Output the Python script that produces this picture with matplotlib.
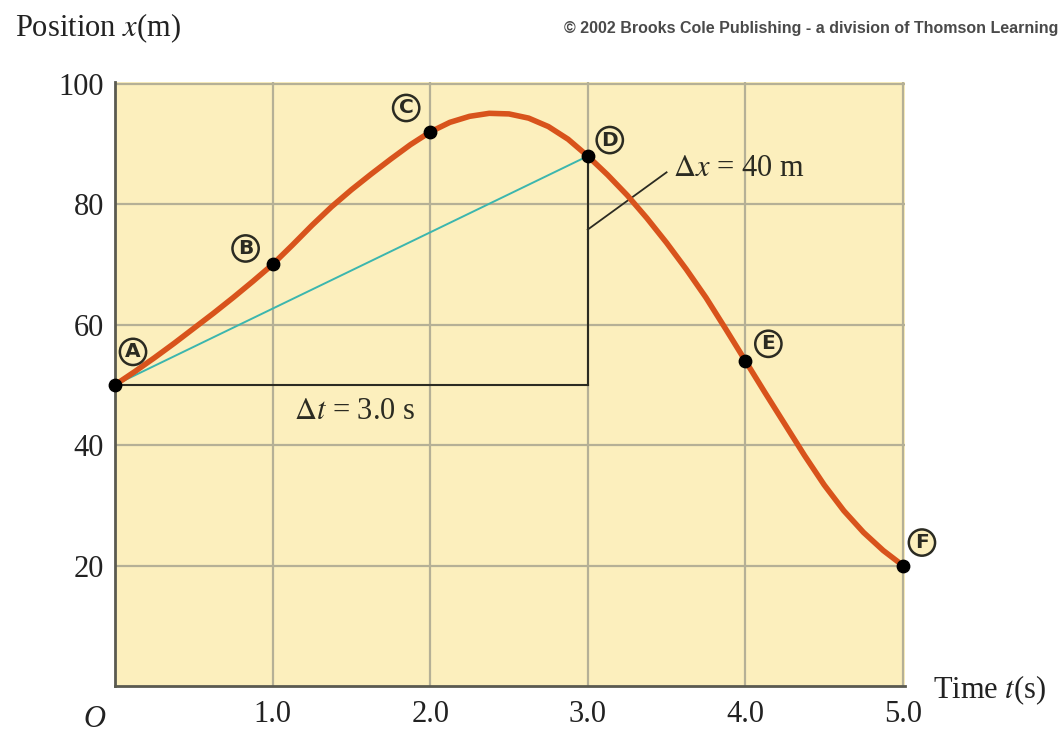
import matplotlib.pyplot as plt

plt.rcParams["mathtext.fontset"] = "stix"

# --- Data ---
# position curve read at eighth-second steps
curve_t = [0.0, 0.125, 0.25, 0.375, 0.5, 0.625, 0.75, 0.875,
           1.0, 1.125, 1.25, 1.375, 1.5, 1.625, 1.75, 1.875,
           2.0, 2.125, 2.25, 2.375, 2.5, 2.625, 2.75, 2.875,
           3.0, 3.125, 3.25, 3.375, 3.5, 3.625, 3.75, 3.875,
           4.0, 4.125, 4.25, 4.375, 4.5, 4.625, 4.75, 4.875, 5.0]
curve_x = [50.0, 52.2, 54.5, 56.9, 59.4, 61.9, 64.5, 67.2,
           70.0, 73.2, 76.5, 79.6, 82.4, 85.0, 87.5, 89.9,
           92.0, 93.6, 94.6, 95.1, 95.0, 94.3, 92.9, 90.8,
           88.0, 84.9, 81.5, 77.7, 73.6, 69.2, 64.5, 59.3,
           54.0, 48.7, 43.5, 38.3, 33.4, 29.1, 25.5, 22.5, 20.0]

# labelled points A..F
point_names = ["A", "B", "C", "D", "E", "F"]
point_t = [0.0, 1.0, 2.0, 3.0, 4.0, 5.0]
point_x = [50, 70, 92, 88, 54, 20]
label_offsets = [(18, 35), (-27, 18), (-24, 26), (22, 18), (23, 19), (19, 25)]

xticks = [0, 1, 2, 3, 4, 5]
xtick_labels = ["", "1.0", "2.0", "3.0", "4.0", "5.0"]
yticks = [20, 40, 60, 80, 100]

# --- Style ---
bg = "#fcefbd"
grid_col = "#b5b096"
curve_col = "#d8531c"
secant_col = "#3cb6ae"
ink = "#2b2b22"
serif = "Liberation Serif"

fig = plt.figure(figsize=(10.62, 7.34), dpi=100)
ax = fig.add_axes([115 / 1062, 48 / 734, 790 / 1062, 604 / 734])
ax.set_facecolor(bg)
ax.set_xlim(0, 5.013)
ax.set_ylim(0, 100.3)

for t in xticks[1:]:
    ax.axvline(t, color=grid_col, lw=1.6, zorder=1)
for y in yticks:
    ax.axhline(y, color=grid_col, lw=1.6, zorder=1)

for side in ["top", "right"]:
    ax.spines[side].set_visible(False)
for side in ["left", "bottom"]:
    ax.spines[side].set_color("#5a5a50")
    ax.spines[side].set_linewidth(2)

# triangle legs for delta t and delta x
ax.plot([point_t[0], point_t[3]], [point_x[0], point_x[0]], color=ink, lw=1.5, zorder=2)
ax.plot([point_t[3], point_t[3]], [point_x[0], point_x[3]], color=ink, lw=1.5, zorder=2)

# secant A -> D
ax.plot([point_t[0], point_t[3]], [point_x[0], point_x[3]], color=secant_col, lw=1.4, zorder=3)

# position curve
ax.plot(curve_t, curve_x, color=curve_col, lw=4, solid_capstyle="round",
        solid_joinstyle="round", zorder=4, clip_on=False)

ax.scatter(point_t, point_x, s=80, color="black", zorder=5, clip_on=False)

for name, t, x, off in zip(point_names, point_t, point_x, label_offsets):
    ax.annotate(name, (t, x), xytext=off, textcoords="offset pixels",
                ha="center", va="center_baseline", fontsize=14.5, fontweight="bold",
                color=ink, family="DejaVu Sans", zorder=6, annotation_clip=False,
                bbox=dict(boxstyle="circle,pad=0.18", fc=bg, ec=ink, lw=1.8))

# delta labels
ax.plot([3.0, 3.5], [75.8, 85.3], color=ink, lw=1.3, zorder=2)
ax.text(3.54, 86.0, r"$\Delta x$ = 40 m", fontsize=22, family=serif, color=ink,
        va="center", ha="left", zorder=6)
ax.text(1.52, 45.6, r"$\Delta t$ = 3.0 s", fontsize=22, family=serif, color=ink,
        va="center", ha="center", zorder=6)

ax.set_xticks(xticks)
ax.set_xticklabels(xtick_labels)
ax.set_yticks(yticks)
ax.tick_params(length=0, labelsize=22, pad=10, colors="#222222")
for lab in ax.get_xticklabels() + ax.get_yticklabels():
    lab.set_family(serif)
ax.tick_params(axis="y", pad=8)

ax.text(-0.13, -5.6, "O", fontsize=22, family=serif, style="italic",
        ha="center", va="center", color="#222222")

fig.text(15 / 1062, 1 - 28 / 734, "Position $x$(m)", fontsize=22, family=serif,
         ha="left", va="center", color="#222222")
fig.text(933 / 1062, 1 - 690 / 734, "Time $t$(s)", fontsize=22, family=serif,
         ha="left", va="center", color="#222222")
fig.text(1058 / 1062, 1 - 28 / 734,
         "© 2002 Brooks Cole Publishing - a division of Thomson Learning",
         fontsize=11.5, fontweight="bold", family="Liberation Sans",
         ha="right", va="center", color="#4a4a4a")

fig.savefig("out.png", dpi=100, facecolor="white")
